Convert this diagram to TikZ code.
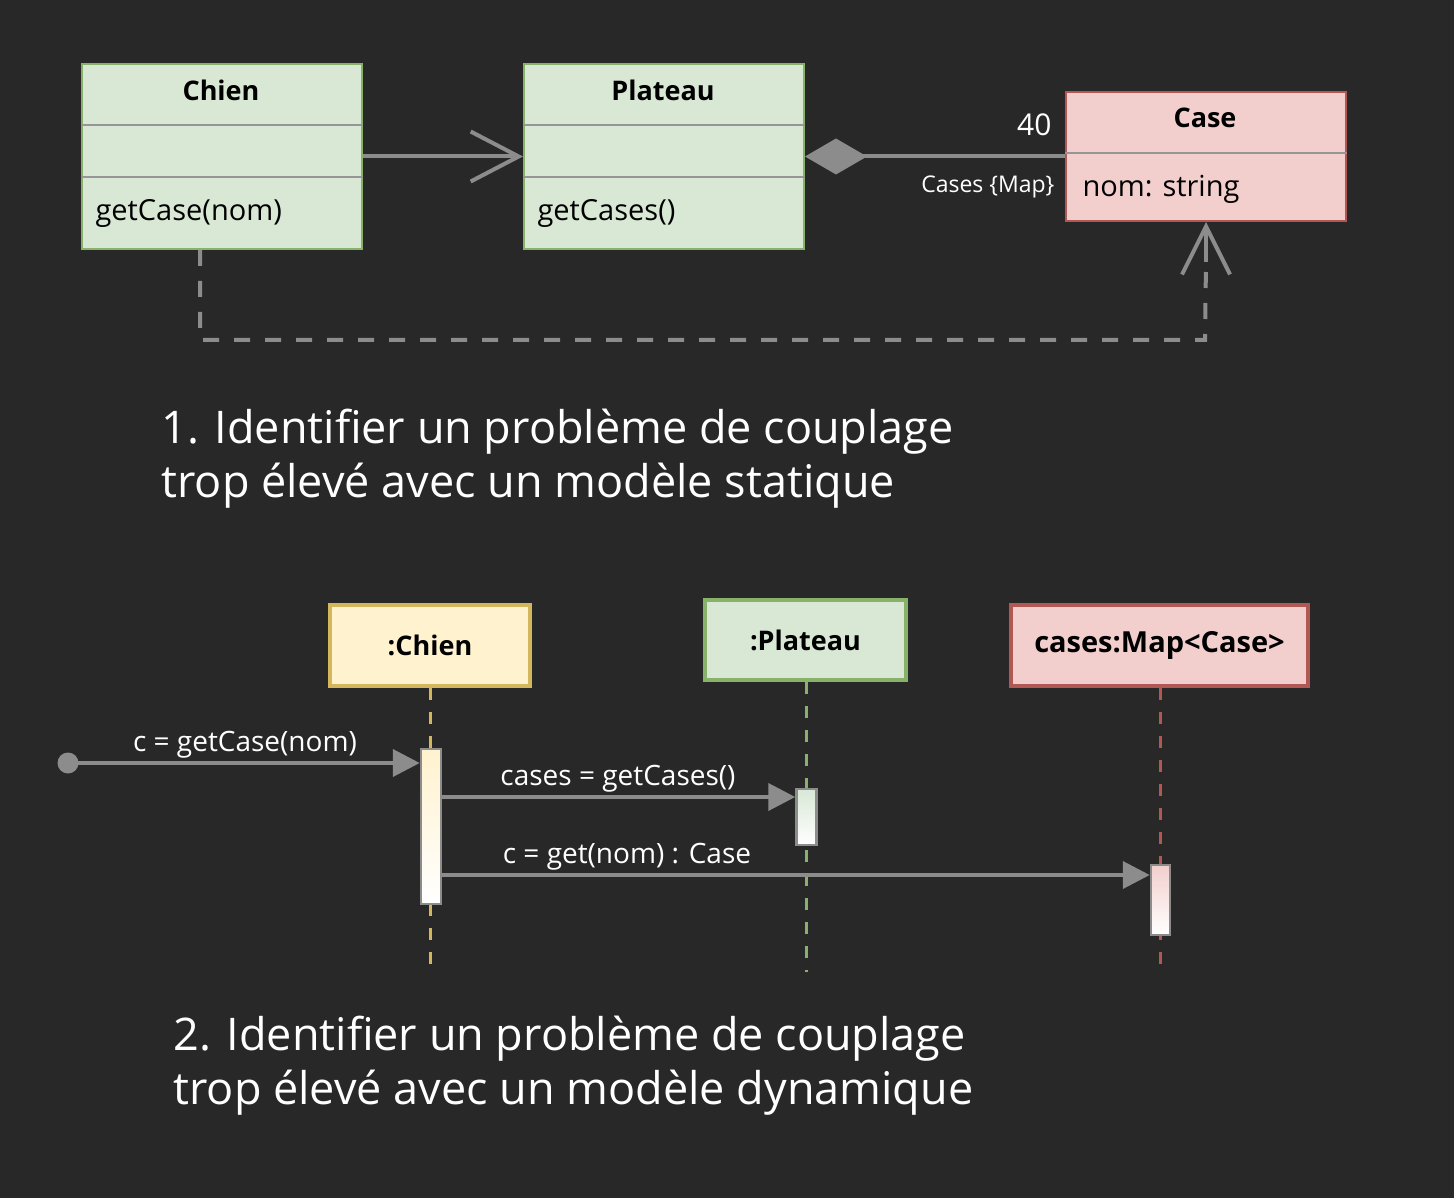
\documentclass[tikz,border=0pt]{standalone}
\usepackage{fontspec}
\setmainfont{Open Sans}
\usetikzlibrary{arrows.meta,shapes.geometric}
\definecolor{bg}{RGB}{40,40,40}
\definecolor{gfill}{RGB}{216,232,213}
\definecolor{gline}{RGB}{136,178,106}
\definecolor{rfill}{RGB}{242,207,205}
\definecolor{rline}{RGB}{178,88,84}
\definecolor{yfill}{RGB}{255,242,206}
\definecolor{yline}{RGB}{212,182,92}
\definecolor{conn}{RGB}{140,140,140}
\definecolor{sepc}{RGB}{150,150,150}
\tikzset{
  clsbox/.style={rectangle, line width=2pt, minimum width=280pt, anchor=north west, inner sep=0pt},
  clstitle/.style={font=\fontsize{27}{32}\selectfont\bfseries, text=black},
  clsitem/.style={font=\fontsize{29}{34}\selectfont, text=black, anchor=west},
  sepline/.style={draw=sepc, line width=2pt},
  conn/.style={draw=conn, line width=4pt},
  objbox/.style={rectangle, line width=3.5pt, text=black, inner sep=0pt},
  lifeline/.style={line width=3pt, dash pattern=on 12pt off 12pt},
  actbox/.style={rectangle, draw=conn, line width=2.5pt, inner sep=0pt, minimum width=20pt},
  msg/.style={draw=conn, line width=4pt, -{Triangle[length=27pt,width=27pt]}},
  msglabel/.style={font=\fontsize{28}{32}\selectfont, text=white},
  bigtext/.style={font=\fontsize{45}{54}\selectfont, text=white, align=left, anchor=base west},
}
\begin{document}
\begin{tikzpicture}[x=1pt,y=-1pt]
\fill[bg] (0,0) rectangle (1454,1198);
\useasboundingbox (0,0) rectangle (1454,1198);

% ---- classes
\node[clsbox, fill=gfill, draw=gline, minimum height=185pt] (chien) at (81,63) {};
\node[clstitle] (chienT) at (221,90) {Chien};
\draw[sepline] ([yshift=-62pt]chien.north west) -- ([yshift=-62pt]chien.north east);
\draw[sepline] ([yshift=-114pt]chien.north west) -- ([yshift=-114pt]chien.north east);
\node[clsitem] (chienM) at (92,213) {getCase(nom)};

\node[clsbox, fill=gfill, draw=gline, minimum height=185pt] (plateau) at (523,63) {};
\node[clstitle] (plateauT) at (663,90) {Plateau};
\draw[sepline] ([yshift=-62pt]plateau.north west) -- ([yshift=-62pt]plateau.north east);
\draw[sepline] ([yshift=-114pt]plateau.north west) -- ([yshift=-114pt]plateau.north east);
\node[clsitem] (plateauM) at (534,213) {getCases()};

\node[clsbox, fill=rfill, draw=rline, minimum height=129pt] (casecls) at (1065,91) {};
\node[clstitle] (caseT) at (1205,118) {Case};
\draw[sepline] ([yshift=-62pt]casecls.north west) -- ([yshift=-62pt]casecls.north east);
\node[clsitem] (caseA) at (1079,189) {nom: string};

% ---- connectors
\draw[conn, -{Straight Barb[length=48pt,width=50pt,line width=4pt]}] (chien.east) -- (plateau.west);
\draw[conn, {Diamond[length=62pt,width=36pt]}-] (plateau.east) -- (casecls.west);
\node[font=\fontsize{30}{34}\selectfont, text=white, anchor=east] (mult) at (1055,125) {40};
\node[font=\fontsize{23}{28}\selectfont, text=white, anchor=east] (role) at (1058,187) {Cases \{Map\}};

\coordinate (bend) at (1205,340);
\draw[conn, dash pattern=on 16pt off 15pt] ([xshift=-22pt]chien.south) |- (bend) -- ([yshift=-40pt]casecls.south);
\draw[conn, -{Straight Barb[length=48pt,width=48pt,line width=4pt]}] ([yshift=-40pt]casecls.south) -- (casecls.south);

\node[bigtext] (t1) at (158,497) {1. Identifier un problème de couplage\\trop élevé avec un modèle statique};

% ---- sequence
\node[objbox, fill=yfill, draw=yline, minimum width=200pt, minimum height=81pt, font=\fontsize{27}{32}\selectfont\bfseries] (chienO) at (430,645.5) {:Chien};
\node[objbox, fill=gfill, draw=gline, minimum width=201pt, minimum height=80pt, font=\fontsize{27}{32}\selectfont\bfseries] (plateauO) at (805.5,640) {:Plateau};
\node[objbox, fill=rfill, draw=rline, minimum width=297pt, minimum height=81pt, font=\fontsize{29}{34}\selectfont\bfseries] (mapO) at (1159.5,645.5) {cases:Map<Case>};

\coordinate (chienEnd) at (430,964);
\coordinate (plateauEnd) at (806,972);
\coordinate (mapEnd) at (1160,964);
\draw[lifeline, draw=yline] (chienO.south) -- (chienEnd);
\draw[lifeline, draw=gline] (plateauO.south -| plateauEnd) -- (plateauEnd);
\draw[lifeline, draw=rline] (mapO.south -| mapEnd) -- (mapEnd);

\node[actbox, top color=yfill, bottom color=white, minimum height=155pt] (chienA) at (431,826.5) {};
\node[actbox, top color=gfill, bottom color=white, minimum height=56pt] (plateauA) at (806.5,817) {};
\node[actbox, top color=rfill, bottom color=white, minimum height=70pt, minimum width=19pt] (mapA) at (1160.5,900) {};

\node[circle, fill=conn, minimum size=21pt, inner sep=0pt] (start) at (68,763) {};
\coordinate (m2) at (0,797);
\coordinate (m3) at (0,875);
\draw[msg] (start.center) -- (start -| chienA.west);
\draw[msg] (chienA.east |- m2) -- (plateauA.west |- m2);
\draw[msg] (chienA.east |- m3) -- (mapA.west |- m3);
\node[msglabel] (l1) at (245,745) {c = getCase(nom)};
\node[msglabel] (l2) at (618,779) {cases = getCases()};
\node[msglabel] (l3) at (627,857) {c = get(nom) : Case};

\node[bigtext] (t2) at (170,1104) {2. Identifier un problème de couplage\\trop élevé avec un modèle dynamique};
\end{tikzpicture}
\end{document}
